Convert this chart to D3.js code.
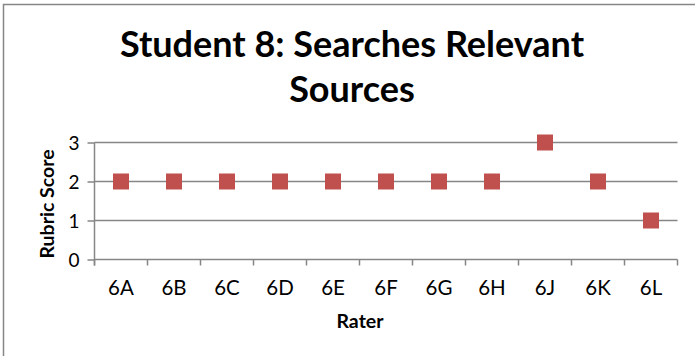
<!DOCTYPE html>
<html>
<head>
<meta charset="utf-8">
<script src="https://cdn.jsdelivr.net/npm/d3@7"></script>
<style>
  html, body { margin: 0; padding: 0; background: #fff; }
  svg { display: block; }
  text { font-family: Lato, "Open Sans", "Liberation Sans", sans-serif; fill: #000; }
</style>
</head>
<body>
<script>
// Rubric scores given by each rater
const raters = ["6A", "6B", "6C", "6D", "6E", "6F", "6G", "6H", "6J", "6K", "6L"];
const scores = [2, 2, 2, 2, 2, 2, 2, 2, 3, 2, 1];
const yTicks = [0, 1, 2, 3];
const titleLines = ["Student 8: Searches Relevant", "Sources"];

const W = 695, H = 356;
const svg = d3.select("body").append("svg").attr("width", W).attr("height", H);

// chart frame
svg.append("rect")
  .attr("x", 3.5).attr("y", 4.5)
  .attr("width", W + 10).attr("height", H + 10)
  .attr("fill", "none").attr("stroke", "#868686").attr("stroke-width", 1.5);

const plot = { left: 94.5, right: 677.5, top: 142.5, bottom: 259.5 };

const x = d3.scaleBand().domain(raters).range([plot.left, plot.right]);
const y = d3.scaleLinear().domain([0, 3]).range([plot.bottom, plot.top]);

const gridColor = "#868686";

// horizontal gridlines
svg.append("g").selectAll("line").data(yTicks.filter(d => d > 0)).join("line")
  .attr("x1", plot.left).attr("x2", plot.right)
  .attr("y1", d => y(d)).attr("y2", d => y(d))
  .attr("stroke", gridColor).attr("stroke-width", 1.5);

// y axis
const yAxis = svg.append("g").attr("transform", `translate(${plot.left},0)`)
  .call(d3.axisLeft(y).tickValues(yTicks).tickSize(7).tickPadding(8).tickFormat(d3.format("d")));
yAxis.selectAll(".tick line").attr("stroke", gridColor).attr("stroke-width", 1.5);
yAxis.selectAll(".tick text").attr("font-size", 19).attr("font-family", null).attr("dy", "0.35em");
yAxis.select(".domain").attr("stroke", gridColor).attr("stroke-width", 1.5)
  .attr("d", `M0,${plot.bottom + 6}V${plot.top}`);

// x axis with ticks on category boundaries
const xAxis = svg.append("g").attr("transform", `translate(0,${plot.bottom})`)
  .call(d3.axisBottom(x).tickSize(0).tickPadding(21));
xAxis.select(".domain").attr("stroke", gridColor).attr("stroke-width", 1.5)
  .attr("d", `M${plot.left},0H${plot.right}`);
xAxis.selectAll(".tick text").attr("font-size", 20.5).attr("font-family", null);
const bounds = raters.map(r => x(r)).concat([plot.right]);
xAxis.append("g").selectAll("line").data(bounds).join("line")
  .attr("x1", d => d).attr("x2", d => d).attr("y1", 0).attr("y2", 6)
  .attr("stroke", gridColor).attr("stroke-width", 1.5);

// markers
const size = 16;
svg.append("g").selectAll("rect").data(raters.map((r, i) => ({ r, v: scores[i] }))).join("rect")
  .attr("x", d => x(d.r) + x.bandwidth() / 2 - size / 2)
  .attr("y", d => y(d.v) - size / 2)
  .attr("width", size).attr("height", size)
  .attr("fill", "#C0504D");

// title
svg.append("g").selectAll("text").data(titleLines).join("text")
  .attr("x", 352).attr("y", (d, i) => 57 + i * 44.5)
  .attr("text-anchor", "middle")
  .attr("font-size", 36).attr("font-weight", "bold")
  .text(d => d);

// axis titles
svg.append("text")
  .attr("transform", `translate(54,${(plot.top + plot.bottom) / 2 + 3}) rotate(-90)`)
  .attr("text-anchor", "middle").attr("font-size", 19.5).attr("font-weight", "bold")
  .text("Rubric Score");
svg.append("text")
  .attr("x", 360).attr("y", 328)
  .attr("text-anchor", "middle").attr("font-size", 19.5).attr("font-weight", "bold")
  .text("Rater");
</script>
</body>
</html>
